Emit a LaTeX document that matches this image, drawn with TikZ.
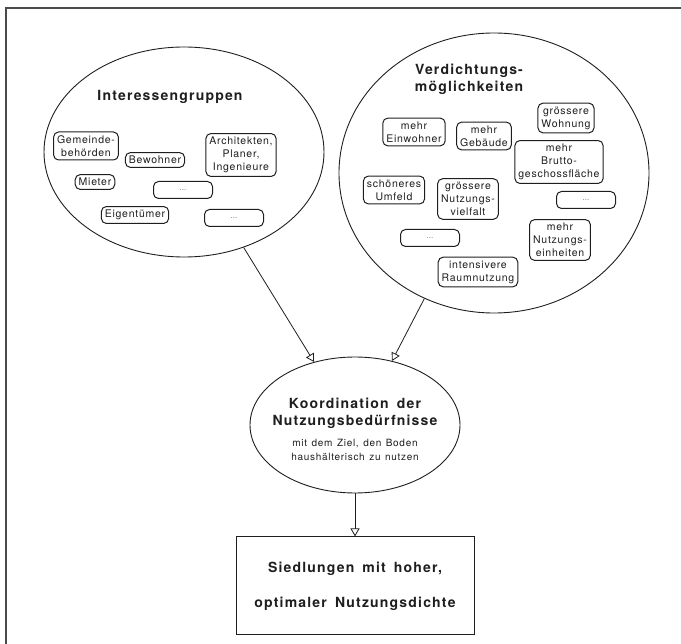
\documentclass[tikz,border=0pt]{standalone}
\usepackage{fontspec}
\setmainfont{TeX Gyre Heros}
\newfontfamily\headfont[LetterSpace=8.5, WordSpace=1.6]{TeX Gyre Heros}
\newfontfamily\labelfont[LetterSpace=7, WordSpace=1.3]{TeX Gyre Heros}
\usepackage{xcolor}
\usepackage{tikz}
\usetikzlibrary{arrows.meta,positioning,shapes.geometric}
\definecolor{inkblack}{HTML}{1E1E1E}
\definecolor{framegrey}{HTML}{4A4A4A}
\tikzset{
  frame line/.style = {framegrey, line width=1.6pt},
  bubble/.style     = {ellipse, draw=inkblack, line width=0.9pt, inner sep=0pt},
  heading/.style    = {align=center, text=inkblack,
                       font=\headfont\bfseries\fontsize{14}{17}\selectfont},
  item box/.style   = {draw=inkblack, rounded corners=5pt, line width=1pt,
                       align=center, inner xsep=3.5pt, inner ysep=3.5pt,
                       text=inkblack, font=\labelfont\fontsize{10.5}{13}\selectfont},
  dots box/.style   = {item box, minimum width=59pt, minimum height=17pt,
                       text=black!55, font=\fontsize{8}{9}\selectfont},
  note/.style       = {align=center, text=inkblack,
                       font=\labelfont\fontsize{10}{14}\selectfont},
  result box/.style = {draw=inkblack, line width=1pt, minimum width=238pt,
                       minimum height=98pt, align=center, text=inkblack,
                       font=\headfont\bfseries\fontsize{14}{17}\selectfont},
  flow/.style       = {-{Triangle[open, length=8pt, width=9pt]}, inkblack,
                       line width=0.8pt},
}

\begin{document}
\begin{tikzpicture}[x=1pt, y=-1pt, node distance=43pt]
    \useasboundingbox (0,0) rectangle (681,644);
    \draw[frame line] (6,644) -- (6,8) -- (681,8);

    % interest groups
    \node[bubble, minimum width=280pt, minimum height=210pt] (groups) at (184,152) {};
    \node[heading] (groups title) at (170,97) {Interessengruppen};
    \node[item box] (gemeinde) at (86,146) {Gemeinde-\\behörden};
    \node[item box] (bewohner) at (155,160) {Bewohner};
    \node[item box] (planer) at (241,155) {Architekten,\\Planer,\\Ingenieure};
    \node[item box] (mieter) at (95,182) {Mieter};
    \node[dots box] (groups more a) at (183,190) {...};
    \node[item box] (eigentuemer) at (135,215) {Eigentümer};
    \node[dots box] (groups more b) at (234,218) {...};

    % densification options
    \node[bubble, minimum width=310pt, minimum height=280pt] (options) at (494,173) {};
    \node[heading] (options title) at (469,79) {Verdichtungs-\\möglichkeiten};
    \node[item box] (einwohner) at (414,132) {mehr\\Einwohner};
    \node[item box] (gebaeude) at (484,136) {mehr\\Gebäude};
    \node[item box] (wohnung) at (566,118) {grössere\\Wohnung};
    \node[item box] (brutto) at (559,162) {mehr\\Brutto-\\geschossfläche};
    \node[item box] (umfeld) at (394,190) {schöneres\\Umfeld};
    \node[item box] (vielfalt) at (468,199) {grössere\\Nutzungs-\\vielfalt};
    \node[dots box] (options more a) at (586,200) {...};
    \node[dots box] (options more b) at (430,238) {...};
    \node[item box] (einheiten) at (560,240) {mehr\\Nutzungs-\\einheiten};
    \node[item box] (raum) at (478,272) {intensivere\\Raumnutzung};

    % coordination and result
    \node[bubble, minimum width=210pt, minimum height=136pt] (koord) at (355,425) {};
    \node[heading] (koord title) at (355,413) {Koordination der\\Nutzungsbedürfnisse};
    \node[note] (koord note) at (355,450) {mit dem Ziel, den Boden\\haushälterisch zu nutzen};
    \node[result box, below=of koord] (result)
      {Siedlungen mit hoher,\\[18pt]optimaler Nutzungsdichte};

    \draw[flow] (groups.-58) -- (koord.123);
    \draw[flow] (options.-119) -- (koord.60);
    \draw[flow] (koord.south) -- (result.north);
\end{tikzpicture}
\end{document}
